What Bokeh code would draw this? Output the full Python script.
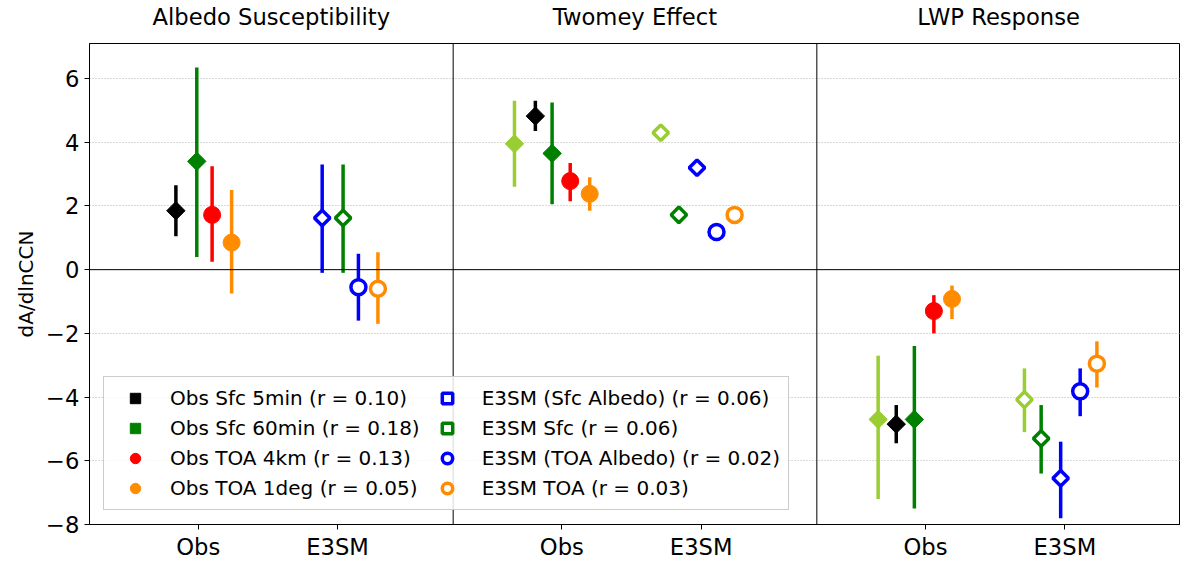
import math
from bokeh.plotting import figure
from bokeh.models import Span, Legend, LegendItem, FixedTicker, LinearAxis
from bokeh.embed import file_html
from bokeh.resources import INLINE

panels = ["Albedo Susceptibility", "Twomey Effect", "LWP Response"]
W = 2.61
OBS = 0.78

series = [
    ("obs5", "black", "diamond", False, "Obs Sfc 5min (r = 0.10)"),
    ("obs60", "green", "diamond", False, "Obs Sfc 60min (r = 0.18)"),
    ("obs4km", "red", "circle", False, "Obs TOA 4km (r = 0.13)"),
    ("obs1deg", "darkorange", "circle", False, "Obs TOA 1deg (r = 0.05)"),
    ("e3sfcalb", "blue", "diamond", True, "E3SM (Sfc Albedo) (r = 0.06)"),
    ("e3sfc", "green", "diamond", True, "E3SM Sfc (r = 0.06)"),
    ("e3toaalb", "blue", "circle", True, "E3SM (TOA Albedo) (r = 0.02)"),
    ("e3toa", "darkorange", "circle", True, "E3SM TOA (r = 0.03)"),
    ("obslg", "yellowgreen", "diamond", False, None),
    ("e3lg", "yellowgreen", "diamond", True, None),
]

data = {
    0: {
        "obs5": (0, -0.16, 1.85, 1.05, 2.65),
        "obs60": (0, -0.01, 3.4, 0.4, 6.35),
        "obs4km": (0, 0.10, 1.72, 0.25, 3.25),
        "obs1deg": (0, 0.24, 0.85, -0.75, 2.5),
        "e3sfcalb": (1, -0.11, 1.62, -0.1, 3.3),
        "e3sfc": (1, 0.04, 1.62, -0.1, 3.3),
        "e3toaalb": (1, 0.15, -0.55, -1.6, 0.5),
        "e3toa": (1, 0.29, -0.6, -1.7, 0.55),
    },
    1: {
        "obslg": (0, -0.34, 3.95, 2.6, 5.3),
        "obs5": (0, -0.19, 4.82, 4.35, 5.3),
        "obs60": (0, -0.07, 3.65, 2.05, 5.25),
        "obs4km": (0, 0.06, 2.78, 2.15, 3.35),
        "obs1deg": (0, 0.20, 2.38, 1.85, 2.9),
        "e3lg": (1, -0.29, 4.3, 4.2, 4.4),
        "e3sfc": (1, -0.16, 1.72, 1.62, 1.82),
        "e3sfcalb": (1, -0.03, 3.2, 3.1, 3.3),
        "e3toaalb": (1, 0.11, 1.18, 1.1, 1.26),
        "e3toa": (1, 0.24, 1.72, 1.62, 1.82),
    },
    2: {
        "obslg": (0, -0.34, -4.7, -7.2, -2.7),
        "obs5": (0, -0.21, -4.85, -5.45, -4.25),
        "obs60": (0, -0.08, -4.7, -7.5, -2.4),
        "obs4km": (0, 0.06, -1.3, -2.0, -0.8),
        "obs1deg": (0, 0.19, -0.92, -1.55, -0.5),
        "e3lg": (1, -0.29, -4.08, -5.1, -3.1),
        "e3sfc": (1, -0.17, -5.3, -6.4, -4.25),
        "e3sfcalb": (1, -0.03, -6.55, -7.8, -5.4),
        "e3toaalb": (1, 0.11, -3.82, -4.6, -3.1),
        "e3toa": (1, 0.23, -2.95, -3.7, -2.25),
    },
}
group_labels = ["Obs", "E3SM"]
yticks = [-8, -6, -4, -2, 0, 2, 4, 6]

p = figure(width=1180, height=562, output_backend="svg", toolbar_location=None,
           x_range=(0, 3 * W), y_range=(-8, 7.1),
           min_border_left=89, min_border_top=0, min_border_right=0, min_border_bottom=0)
p.outline_line_color = "black"
p.xgrid.grid_line_color = None
p.ygrid.grid_line_color = "#b0b0b0"
p.ygrid.grid_line_dash = "1 2"
p.yaxis.ticker = FixedTicker(ticks=yticks)
xt = []
ov = {}
for k in range(3):
    for g in range(2):
        x = k * W + OBS + g
        xt.append(x)
        ov[x] = group_labels[g]
bottom = p.below[0]
bottom.ticker = FixedTicker(ticks=xt)
bottom.major_label_overrides = ov
bottom.major_label_standoff = 4

top = LinearAxis(ticker=FixedTicker(ticks=[k * W + W / 2 for k in range(3)]),
                 major_label_overrides={k * W + W / 2: t for k, t in enumerate(panels)},
                 axis_line_color=None, major_tick_line_color=None, minor_tick_line_color=None,
                 major_label_text_font="DejaVu Sans", major_label_text_font_size="17pt",
                 major_label_text_color="black", major_label_standoff=8)
p.add_layout(top, "above")

for ax in (bottom, p.left[0]):
    ax.major_label_text_font = "DejaVu Sans"
    ax.major_label_text_font_size = "17pt"
    ax.major_label_text_color = "black"
    ax.axis_line_color = "black"
    ax.minor_tick_line_color = None
    ax.major_tick_out = 5
    ax.major_tick_in = 0
p.yaxis.axis_label = "dA/dlnCCN"
p.yaxis.axis_label_text_font = "DejaVu Sans"
p.yaxis.axis_label_text_font_style = "normal"
p.yaxis.axis_label_text_font_size = "15pt"
p.yaxis.axis_label_text_color = "black"

p.add_layout(Span(location=0, dimension="width", line_color="black", line_width=1))
for k in (1, 2):
    p.add_layout(Span(location=k * W, dimension="height", line_color="black", line_width=1))

items = []
for name, color, marker, hollow, lab in series:
    xs, ys, lo, hi = [], [], [], []
    for k in range(3):
        if name in data[k]:
            g, off, v, l, h = data[k][name]
            xs.append(k * W + OBS + g + off)
            ys.append(v); lo.append(l); hi.append(h)
    p.segment(xs, lo, xs, hi, line_color=color, line_width=3.5)
    if marker == "diamond":
        mk, ang, sz = "square", math.pi / 4, 13
    else:
        mk, ang, sz = "circle", 0, 17
    if hollow:
        r = p.scatter(xs, ys, marker=mk, angle=ang, size=sz - 2, fill_color="white",
                      line_color=color, line_width=3.5)
    else:
        r = p.scatter(xs, ys, marker=mk, angle=ang, size=sz, fill_color=color, line_color=color)
    if lab:
        items.append(LegendItem(label=lab, renderers=[r]))

leg = Legend(items=items, ncols=2, nrows=4, location="bottom_left",
             label_text_font="DejaVu Sans", label_text_font_size="15pt",
             label_text_color="black", spacing=4, padding=8, glyph_width=46,
             glyph_height=26, label_standoff=12, margin=14,
             border_line_color="#cccccc", border_line_alpha=1.0,
             background_fill_alpha=0.85)
p.add_layout(leg)

open("out.html", "w").write(file_html(p, INLINE))
